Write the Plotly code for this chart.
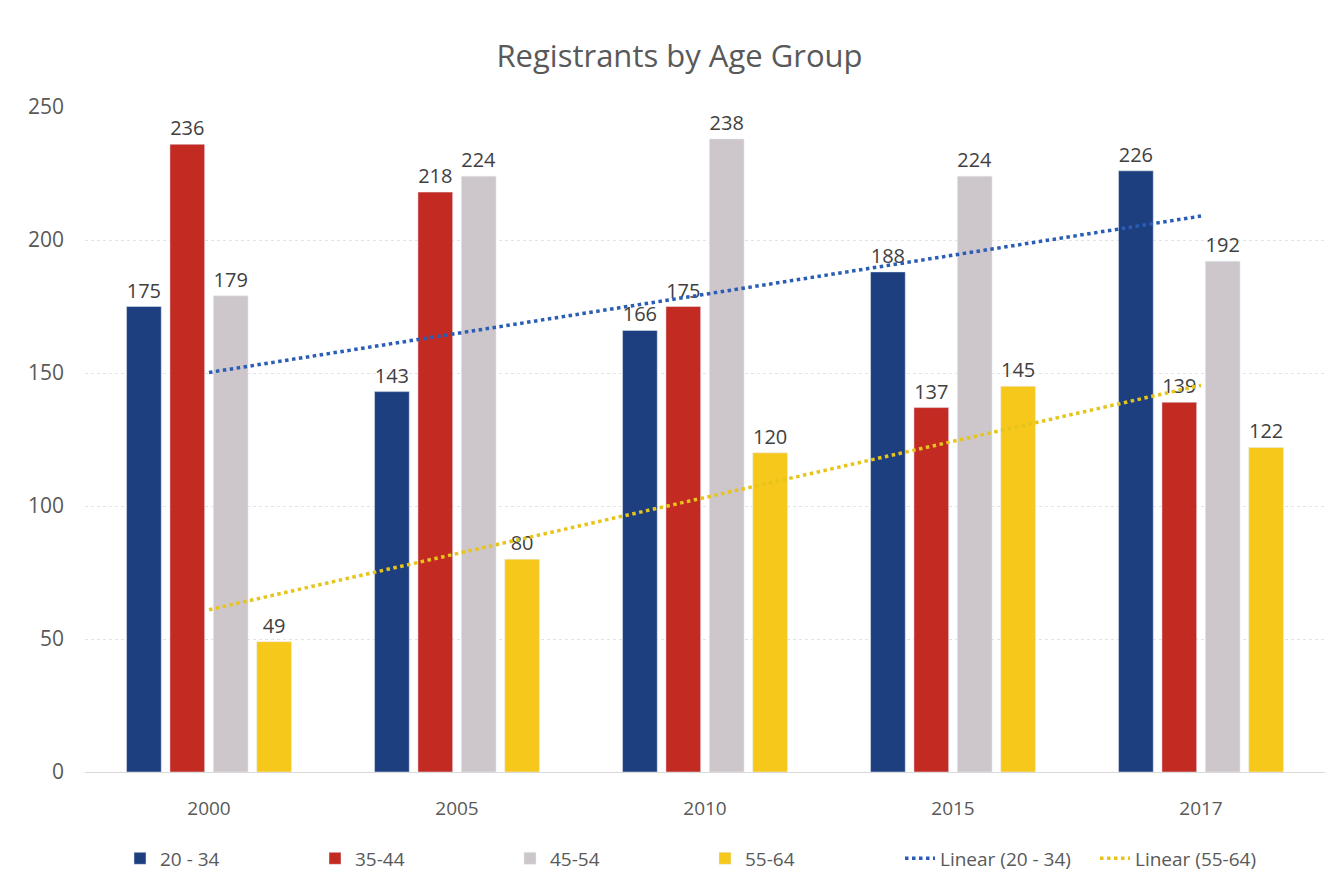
import numpy as np
import plotly.graph_objects as go

years = ["2000", "2005", "2010", "2015", "2017"]
s_20_34 = [175, 143, 166, 188, 226]
s_35_44 = [236, 218, 175, 137, 139]
s_45_54 = [179, 224, 238, 224, 192]
s_55_64 = [49, 80, 120, 145, 122]

series = [
    ("20 - 34", s_20_34, "#1d3f80"),
    ("35-44", s_35_44, "#c22a22"),
    ("45-54", s_45_54, "#cdc7cc"),
    ("55-64", s_55_64, "#f6c81c"),
]

font_fam = "Open Sans, Lato, sans-serif"
fig = go.Figure()
for name, vals, col in series:
    fig.add_trace(go.Bar(
        x=years, y=vals, name=name, marker_color=col,
        text=[str(v) for v in vals], textposition="outside",
        textfont=dict(size=20, color="#404040", family=font_fam),
        cliponaxis=False,
    ))

xi = np.arange(1, len(years) + 1)
for name, vals, col in [("Linear (20 - 34)", s_20_34, "#2a5db5"),
                        ("Linear (55-64)", s_55_64, "#e6c41a")]:
    k, b = np.polyfit(xi, vals, 1)
    fig.add_trace(go.Scatter(
        x=years, y=k * xi + b, name=name, mode="lines",
        line=dict(color=col, width=3.5, dash="dot"),
    ))

fig.update_layout(
    width=1343, height=895,
    paper_bgcolor="white", plot_bgcolor="white",
    title=dict(text="Registrants by Age Group", x=0.5, xanchor="center",
               y=0.946, yanchor="middle",
               font=dict(size=31, color="#595959", family=font_fam)),
    margin=dict(l=77, r=26, t=99, b=131, autoexpand=False),
    barmode="group", bargap=0.3, bargroupgap=0.2,
    font=dict(family=font_fam, color="#595959", size=19),
    legend=dict(orientation="h", x=0.5, xanchor="center", y=-0.13, yanchor="middle",
                font=dict(size=19, color="#595959"), traceorder="normal",
                itemwidth=30, entrywidth=150),
    showlegend=True,
)
fig.update_yaxes(range=[0, 250], dtick=50, gridcolor="#e3e3e3", griddash="dot",
                 zeroline=False, showline=False, ticks="", ticklabelstandoff=20,
                 automargin=False,
                 tickfont=dict(size=21, color="#595959"))
fig.update_xaxes(showline=True, linecolor="#d9d9d9", linewidth=1, ticks="",
                 automargin=False, ticklabelstandoff=19,
                 tickfont=dict(size=19, color="#595959"))

fig.write_html("out.html")
